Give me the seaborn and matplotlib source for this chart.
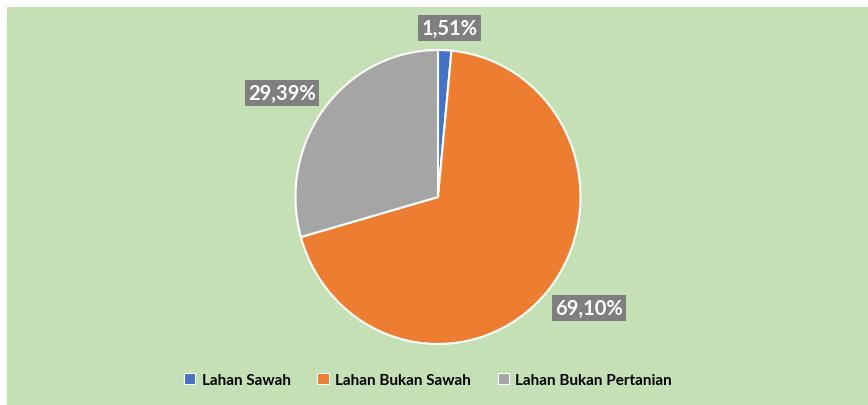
import numpy as np
import matplotlib
matplotlib.use("Agg")
import matplotlib.pyplot as plt
from matplotlib.patches import Rectangle, Patch
import seaborn as sns

categories = ["Lahan Sawah", "Lahan Bukan Sawah", "Lahan Bukan Pertanian"]
values = [1.51, 69.10, 29.39]
labels = ["1,51%", "69,10%", "29,39%"]
colors = ["#4472C4", "#ED7D31", "#A5A5A5"]

sns.set_theme(style="white")
plt.rcParams['font.family'] = ['Lato', 'DejaVu Sans']

W, H = 868, 406
fig = plt.figure(figsize=(W / 100, H / 100), dpi=100, facecolor="white")
fig.patches.append(Rectangle((7 / W, 0), (W - 7) / W, (H - 8) / H,
                             transform=fig.transFigure, facecolor="#C5E0B4",
                             edgecolor="none", zorder=-10))

cx, cy, rx, ry = 438, 198, 142.5, 147
ax = fig.add_axes([(cx - rx) / W, (H - cy - ry) / H, 2 * rx / W, 2 * ry / H])
ax.set_facecolor("none")
ax.patch.set_alpha(0)
wedges, _ = ax.pie(values, colors=colors, startangle=90, counterclock=False,
                   radius=1, wedgeprops=dict(edgecolor="white", linewidth=1.5))
ax.set_xlim(-1, 1)
ax.set_ylim(-1, 1)
ax.set_aspect("auto")
ax.axis("off")

# label placement style: (radial distance, angular nudge in degrees)
dists = [1.153, 1.302, 1.305]
nudges = [-1.3, 4.5, 4.1]
for w, lab, d, n in zip(wedges, labels, dists, nudges):
    ang = np.deg2rad((w.theta1 + w.theta2) / 2 + n)
    ax.text(d * np.cos(ang), d * np.sin(ang), lab, ha="center", va="center",
            fontsize=14.5, fontweight="bold", color="white", clip_on=False,
            bbox=dict(boxstyle="square,pad=0.15", facecolor="#7F7F7F", edgecolor="none"))

handles = [Patch(facecolor=c, edgecolor="white", linewidth=0.8) for c in colors]
leg = fig.legend(handles, categories, loc="center", bbox_to_anchor=(0.493, (H - 381) / H),
                 ncol=3, frameon=False, handlelength=0.75, handleheight=0.75,
                 handletextpad=0.4, columnspacing=1.75,
                 prop=dict(size=11, weight="bold"))
for t in leg.get_texts():
    t.set_color("black")

fig.savefig("out.png", dpi=100, facecolor="white")
